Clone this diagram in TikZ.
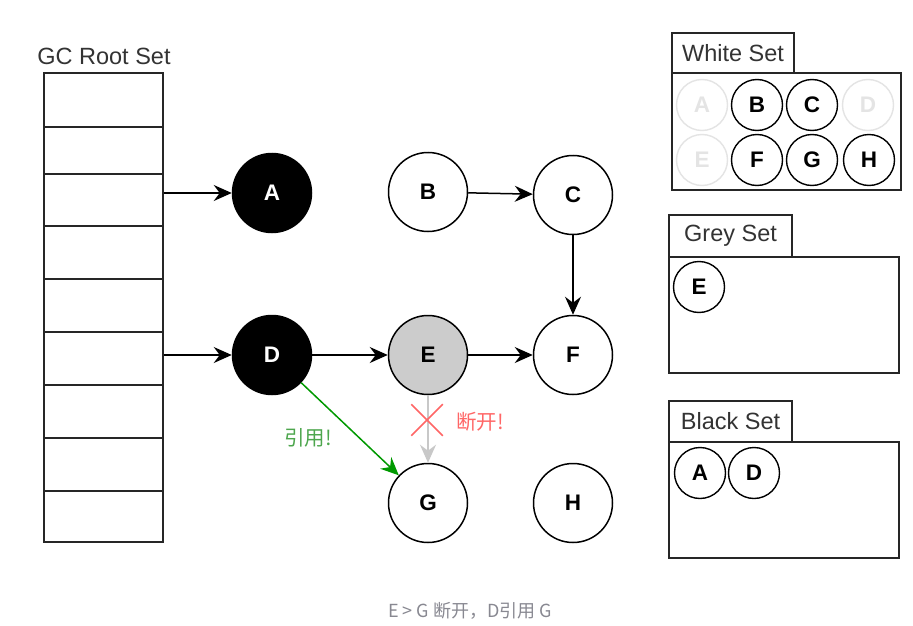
\documentclass[tikz,border=0pt]{standalone}
\usepackage{fontspec}
\setmainfont{Liberation Sans}
\newfontfamily\cjk{Noto Sans CJK SC}
\usetikzlibrary{arrows.meta,shapes.misc}
\definecolor{txtgrey}{RGB}{51,51,51}
\definecolor{faded}{RGB}{228,228,228}
\definecolor{efill}{RGB}{204,204,204}
\definecolor{greyarrow}{RGB}{200,200,200}
\definecolor{redx}{RGB}{255,102,102}
\definecolor{greenarrow}{RGB}{0,153,0}
\definecolor{greentext}{RGB}{77,166,77}
\definecolor{captiongrey}{RGB}{136,136,145}
\begin{document}
\begin{tikzpicture}[x=1pt,y=-1pt,
  bigc/.style={circle,draw=black,line width=1.5pt,minimum size=79,inner sep=0pt,font=\fontsize{22.5}{22.5}\selectfont\bfseries},
  smallc/.style={circle,draw=black,line width=1.4pt,minimum size=51,inner sep=0pt,font=\fontsize{22.5}{22.5}\selectfont\bfseries},
  fadedc/.style={smallc,draw=faded,text=faded},
  rowbox/.style={draw=black!85,line width=1.5pt,minimum width=119,inner sep=0pt},
  tabbox/.style={draw=black!85,line width=1.5pt,inner sep=0pt,font=\fontsize{23.5}{23.5}\selectfont,text=txtgrey},
  setbox/.style={draw=black!85,line width=1.5pt,inner sep=0pt},
  arr/.style={-{Stealth[length=18pt,width=16pt,inset=6pt]},line width=1.5pt}
]
\useasboundingbox[fill=white] (0,0) rectangle (913,626);

% GC Root Set
\node[font=\fontsize{23.5}{23.5}\selectfont,text=txtgrey] (rootlabel) at (104,56) {GC Root Set};
\foreach \t/\b [count=\i] in {73/127,127/174,174/226,226/279,279/332,332/385,385/438,438/491,491/542}{
  \pgfmathsetmacro{\cy}{(\t+\b)/2}
  \pgfmathsetmacro{\hh}{\b-\t}
  \node[rowbox,minimum height=\hh] (r\i) at (103.5,\cy) {};
}

% main graph
\node[bigc,fill=black,text=white] (A) at (272,193) {A};
\node[bigc,fill=white] (B) at (428,192) {B};
\node[bigc,fill=white] (C) at (573,195) {C};
\node[bigc,fill=black,text=white] (D) at (272,355) {D};
\node[bigc,fill=efill] (E) at (428,355) {E};
\node[bigc,fill=white] (F) at (573,355) {F};
\node[bigc,fill=white] (G) at (428,503) {G};
\node[bigc,fill=white] (H) at (573,503) {H};

\draw[arr] (r3.east |- A) -- (A);
\draw[arr] (r6.east |- D) -- (D);
\draw[arr] (B) -- (C);
\draw[arr] (C) -- (F);
\draw[arr] (D) -- (E);
\draw[arr] (E) -- (F);
\draw[arr,draw=greyarrow] (E) -- (G);
\draw[arr,draw=greenarrow] (D) -- (G);

\node[cross out,draw=redx,line width=1.5pt,minimum size=30,inner sep=0pt] (X) at (427,420) {};
\node[font=\cjk\fontsize{20.5}{20.5}\selectfont,text=redx] (cut) at (480,422) {断开!};
\node[font=\cjk\fontsize{20.5}{20.5}\selectfont,text=greentext] (ref) at (308,438) {引用!};

% White Set
\node[setbox,minimum width=229,minimum height=117] (wbody) at (786.5,131.5) {};
\node[tabbox,minimum width=122,minimum height=40] (wtab) at (733,53) {White Set};
\node[fadedc] (wA) at (702,105) {A};
\node[smallc] (wB) at (757,105) {B};
\node[smallc] (wC) at (812,105) {C};
\node[fadedc] (wD) at (868,105) {D};
\node[fadedc] (wE) at (702,160) {E};
\node[smallc] (wF) at (757,160) {F};
\node[smallc] (wG) at (812,160) {G};
\node[smallc] (wH) at (869,160) {H};

% Grey Set
\node[setbox,minimum width=230,minimum height=116] (gbody) at (784,315) {};
\node[tabbox,minimum width=123,minimum height=42] (gtab) at (730.5,236) {Grey Set};
\node[smallc] (gE) at (699,287) {E};

% Black Set
\node[setbox,minimum width=230,minimum height=116] (bbody) at (784,500) {};
\node[tabbox,minimum width=123,minimum height=41] (btab) at (730.5,421.5) {Black Set};
\node[smallc] (bA) at (700,473) {A};
\node[smallc] (bD) at (754,473) {D};

% caption
\node[font=\cjk\fontsize{18}{18}\selectfont,text=captiongrey] (caption) at (470,611) {E > G 断开，D引用 G};
\end{tikzpicture}
\end{document}
